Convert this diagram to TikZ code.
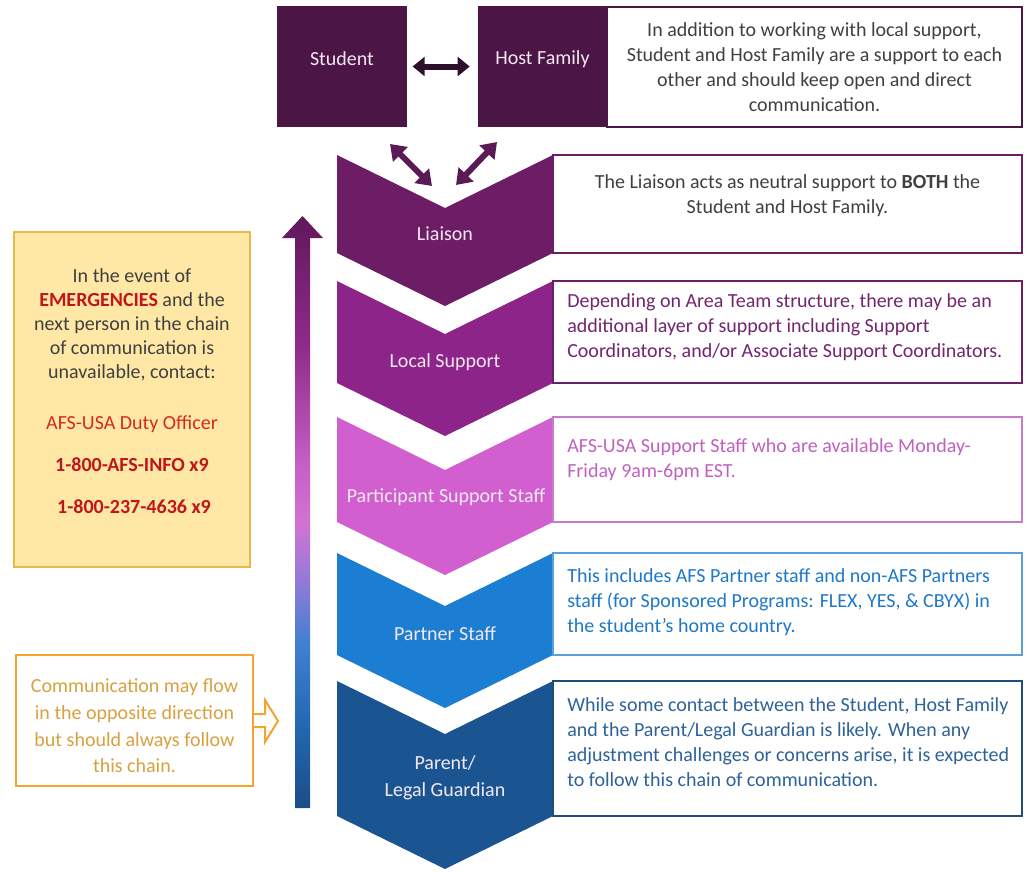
\documentclass[tikz,border=0pt]{standalone}
\usepackage{fontspec}
\setmainfont{Carlito}
\usetikzlibrary{arrows.meta}
\definecolor{cSq}{HTML}{4B1545}
\definecolor{cLia}{HTML}{6C1D66}
\definecolor{cLoc}{HTML}{8C2489}
\definecolor{cPar}{HTML}{D15FCF}
\definecolor{cPtn}{HTML}{1C7ED3}
\definecolor{cPg}{HTML}{1A5592}
\definecolor{bLoc}{HTML}{6C2066}
\definecolor{bPar}{HTML}{C87BC8}
\definecolor{bPtn}{HTML}{5BA0DC}
\definecolor{bPg}{HTML}{1F4E79}
\definecolor{tGray}{HTML}{404040}
\definecolor{tLoc}{HTML}{73256E}
\definecolor{tPar}{HTML}{C061C0}
\definecolor{tPtn}{HTML}{1F78C8}
\definecolor{tPg}{HTML}{2E6299}
\definecolor{tRed}{HTML}{C0161B}
\definecolor{tRed2}{HTML}{D42A20}
\definecolor{yFill}{HTML}{FFE8A6}
\definecolor{yLine}{HTML}{E8B84A}
\definecolor{oLine}{HTML}{F4A230}
\definecolor{oText}{HTML}{D9A040}
\definecolor{aDark}{HTML}{2E0F2B}
\definecolor{aDiag}{HTML}{5A1A56}
\definecolor{lblW}{HTML}{F4E8F3}
\pgfdeclareverticalshading{chaingrad}{100bp}{rgb(0bp)=(0.11,0.30,0.53); rgb(25bp)=(0.11,0.30,0.53); rgb(32bp)=(0.13,0.41,0.70); rgb(39bp)=(0.26,0.50,0.82); rgb(44bp)=(0.56,0.48,0.85); rgb(49bp)=(0.82,0.45,0.83); rgb(54bp)=(0.78,0.37,0.78); rgb(64bp)=(0.56,0.17,0.54); rgb(75bp)=(0.38,0.09,0.36); rgb(100bp)=(0.38,0.09,0.36)}
\newcommand\chevronpath[3]{\fill[#1] (337,#2) -- (445,#2+53) -- (553,#2) -- (553,#3) -- (445,#3+53) -- (337,#3) -- cycle;}
\begin{document}
\begin{tikzpicture}[x=0.75pt,y=-0.75pt,
  base/.style={font=\fontsize{15}{18.75}\selectfont},
  sqbox/.style={fill=cSq,minimum width=97.5pt,minimum height=90.75pt,inner sep=0pt},
  descbox/.style={draw=#1,fill=white,line width=0.8pt,minimum width=351.75pt,inner sep=0pt},
  desctext/.style={base,text=#1,align=left,anchor=west,inner sep=0pt},
  lbl/.style={base,text=lblW,align=center,inner sep=0pt},
  dbl/.style={line width=#1,{Triangle[width=15pt,length=11pt]}-{Triangle[width=15pt,length=11pt]}}
]
\useasboundingbox (0,0) rectangle (1025,872);

% top squares
\node[sqbox] (student) at (342,66.5) {};
\node[sqbox,minimum width=96.75pt] (host) at (542.5,66.5) {};
\node[lbl] (studentlbl) at (342,59) {Student};
\node[lbl] (hostlbl) at (542.5,59) {Host Family};
\node[draw=cSq,fill=white,line width=0.8pt,minimum width=311.25pt,minimum height=90pt,inner sep=0pt] (topbox) at (814.5,67) {};
\node[base,text=tGray,align=center,inner sep=0pt] (toptext) at (814.5,67) {In addition to working with local support,\\ Student and Host Family are a support to each\\ other and should keep open and direct\\ communication.};
\draw[aDark,line width=4.5pt,{Triangle[width=14pt,length=9pt]}-{Triangle[width=14pt,length=9pt]},shorten <=4pt,shorten >=6pt] (student.east) -- (host.west);

% chevrons
\chevronpath{cLia}{155}{253}
\chevronpath{cLoc}{281}{383}
\chevronpath{cPar}{417}{522}
\chevronpath{cPtn}{553}{655}
\chevronpath{cPg}{681}{816}

\node[lbl] (liaison) at (445,234) {Liaison};
\node[lbl] (local) at (445,362) {Local Support};
\node[lbl] (pss) at (446,497) {Participant Support Staff};
\node[lbl] (partner) at (445,634) {Partner Staff};
\node[lbl,font=\fontsize{15}{20}\selectfont] (parent) at (445,778) {Parent/\\ Legal Guardian};

% diagonal arrows
\coordinate (sA) at (390,144);
\coordinate (lA) at (432,186);
\coordinate (hA) at (497,142);
\coordinate (lB) at (456,185);
\draw[aDiag,dbl=4.5pt] (sA) -- (lA);
\draw[aDiag,dbl=4.5pt] (hA) -- (lB);

% description boxes
\node[descbox=cLia,minimum height=73.5pt] (liabox) at (787.5,204) {};
\node[base,text=tGray,align=center,inner sep=0pt] (liatext) at (787.5,196) {The Liaison acts as neutral support to \textbf{BOTH} the\\ Student and Host Family.};
\node[descbox=bLoc,minimum height=76.5pt] (locbox) at (787.5,332) {};
\node[desctext=tLoc] (loctext) at (567,327) {Depending on Area Team structure, there may be an\\ additional layer of support including Support\\ Coordinators, and/or Associate Support Coordinators.};
\node[descbox=bPar,minimum height=78.75pt] (parbox) at (787.5,469.5) {};
\node[desctext=tPar] (partext) at (567,460) {AFS-USA Support Staff who are available Monday-\\ Friday 9am-6pm EST.};
\node[descbox=bPtn,minimum height=76.5pt] (ptnbox) at (787.5,604) {};
\node[desctext=tPtn] (ptntext) at (567,602) {This includes AFS Partner staff and non-AFS Partners\\ staff (for Sponsored Programs: FLEX, YES, \& CBYX) in\\ the student’s home country.};
\node[descbox=bPg,minimum height=101.25pt] (pgbox) at (787.5,748.5) {};
\node[desctext=tPg] (pgtext) at (567,742) {While some contact between the Student, Host Family\\ and the Parent/Legal Guardian is likely. When any\\ adjustment challenges or concerns arise, it is expected\\ to follow this chain of communication.};

% gradient arrow
\shade[shading=chaingrad] (295,808) -- (295,238) -- (282,238) -- (302.5,216) -- (323,238) -- (310,238) -- (310,808) -- cycle;

% emergency box
\node[fill=yFill,draw=yLine,line width=0.8pt,minimum width=177pt,minimum height=251.25pt,inner sep=0pt] (embox) at (132,399.5) {};
\node[align=center,inner sep=0pt,text=tGray,font=\fontsize{15}{18}\selectfont] (emtext) at (132,325) {In the event of\\ \textcolor{tRed}{\textbf{EMERGENCIES}} and the\\ next person in the chain\\ of communication is\\ unavailable, contact:};
\node[base,text=tRed2,inner sep=0pt] (duty) at (132,424) {AFS-USA Duty Officer};
\node[base,text=tRed,inner sep=0pt,font=\fontsize{15}{18.75}\bfseries] (ph1) at (132,465) {1-800-AFS-INFO x9};
\node[base,text=tRed,inner sep=0pt,font=\fontsize{15}{18.75}\bfseries] (ph2) at (134,507) {1-800-237-4636 x9};

% communication box
\node[draw=oLine,fill=white,line width=1.5pt,minimum width=177.75pt,minimum height=98.25pt,inner sep=0pt] (combox) at (134.5,720.5) {};
\node[align=center,inner sep=0pt,text=oText,font=\fontsize{15}{20}\selectfont] (comtext) at (134.5,726) {Communication may flow\\ in the opposite direction\\ but should always follow\\ this chain.};
\draw[oLine,line width=1.5pt,fill=white,line join=miter] (combox.east |- 0,714) -- (265,714) -- (265,700) -- (278,721) -- (265,742) -- (265,727) -- (combox.east |- 0,727);
\end{tikzpicture}
\end{document}
